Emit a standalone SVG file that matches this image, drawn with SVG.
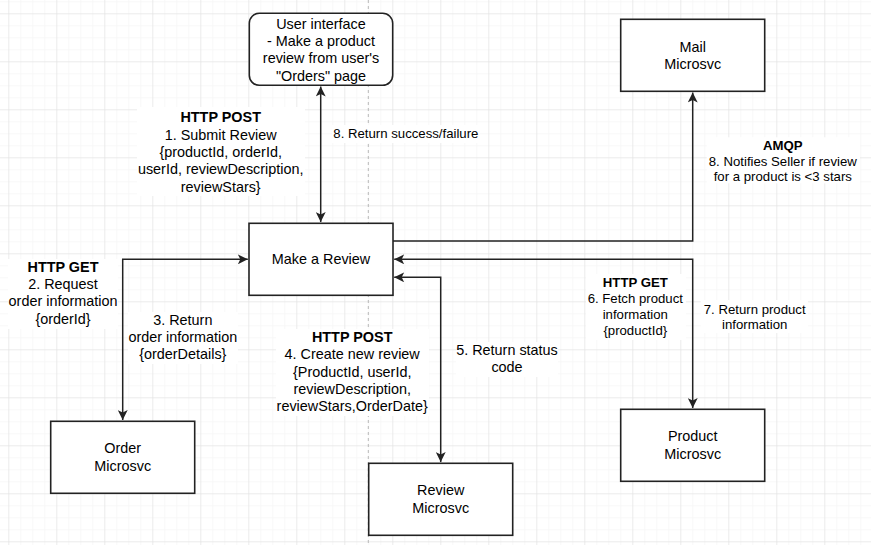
<svg xmlns="http://www.w3.org/2000/svg" width="871" height="545" viewBox="0 0 871 545">
<style>
text{font-family:"Liberation Sans",Arial,sans-serif;fill:#000;text-anchor:middle}
.s{font-size:14.4px}
.m{font-size:13.2px}
.b{font-weight:bold}
.node{fill:#fff;stroke:#222;stroke-width:1.6}
.edge{fill:none;stroke:#222;stroke-width:1.5}
.lbg{fill:#fff}
</style>
<defs>
<pattern id="minor" x="8.3" y="13.3" width="12" height="12" patternUnits="userSpaceOnUse">
<path d="M0 0H12M0 0V12" fill="none" stroke="#f2f2f2" stroke-width="1"/>
</pattern>
<pattern id="major" x="8.3" y="13.3" width="48" height="48" patternUnits="userSpaceOnUse">
<path d="M0 0H48M0 0V48" fill="none" stroke="#e0e0e0" stroke-width="1"/>
</pattern>
<marker id="arr" viewBox="0 0 10 10" markerWidth="10" markerHeight="10" refX="10" refY="5" orient="auto-start-reverse" markerUnits="userSpaceOnUse">
<path d="M0,0 L10,5 L0,10 L2.5,5 Z" fill="#222"/>
</marker>
</defs>
<rect width="871" height="545" fill="#fff"/>
<rect width="871" height="545" fill="url(#minor)"/>
<rect width="871" height="545" fill="url(#major)"/>
<line x1="368.3" y1="0" x2="368.3" y2="545" stroke="#b8b8b8" stroke-width="1" stroke-dasharray="3 3"/>

<g id="connectors">
<path class="edge" d="M320.7 86.5 V222" marker-start="url(#arr)" marker-end="url(#arr)"/>
<path class="edge" d="M393 241 H692.7 V92.5" marker-end="url(#arr)"/>
<path class="edge" d="M122.7 420 V259.3 H247.8" marker-start="url(#arr)" marker-end="url(#arr)"/>
<path class="edge" d="M394.2 277.3 H440.7 V462" marker-start="url(#arr)" marker-end="url(#arr)"/>
<path class="edge" d="M394.2 259.3 H692.7 V408" marker-start="url(#arr)" marker-end="url(#arr)"/>
</g>

<g id="labels">
<g id="label-submit">
<rect class="lbg" x="137" y="107" width="168" height="89"/>
<text class="s b" x="220.7" y="122.3">HTTP POST</text>
<text class="s" x="220.7" y="139.6">1. Submit Review</text>
<text class="s" x="220.7" y="156.9">{productId, orderId,</text>
<text class="s" x="220.7" y="174.2">userId, reviewDescription,</text>
<text class="s" x="220.7" y="191.5">reviewStars}</text>
</g>
<g id="label-return-success">
<rect class="lbg" x="332" y="125" width="148" height="18"/>
<text class="m" x="333.3" y="138" style="text-anchor:start">8. Return success/failure</text>
</g>
<g id="label-amqp">
<rect class="lbg" x="706.7" y="137.3" width="153.3" height="46"/>
<text class="m b" x="782.8" y="149.7">AMQP</text>
<text class="m" x="782.8" y="165.5">8. Notifies Seller if review</text>
<text class="m" x="782.8" y="181.3">for a product is &lt;3 stars</text>
</g>
<g id="label-get-order">
<rect class="lbg" x="8" y="259" width="110" height="70"/>
<text class="s b" x="63" y="271.7">HTTP GET</text>
<text class="s" x="63" y="289">2. Request</text>
<text class="s" x="63" y="306.3">order information</text>
<text class="s" x="63" y="323.6">{orderId}</text>
</g>
<g id="label-return-order">
<rect class="lbg" x="128" y="312" width="110" height="52"/>
<text class="s" x="182.8" y="324.8">3. Return</text>
<text class="s" x="182.8" y="342.1">order information</text>
<text class="s" x="182.8" y="359.4">{orderDetails}</text>
</g>
<g id="label-create-review">
<rect class="lbg" x="276" y="329" width="153" height="87"/>
<text class="s b" x="352.2" y="342">HTTP POST</text>
<text class="s" x="352.2" y="359.3">4. Create new review</text>
<text class="s" x="352.2" y="376.6">{ProductId, userId,</text>
<text class="s" x="352.2" y="393.9">reviewDescription,</text>
<text class="s" x="352.2" y="411.2">reviewStars,OrderDate}</text>
</g>
<g id="label-status">
<rect class="lbg" x="456" y="342" width="102" height="35"/>
<text class="s" x="507" y="355">5. Return status</text>
<text class="s" x="507" y="372.3">code</text>
</g>
<g id="label-fetch-product">
<rect class="lbg" x="586" y="274" width="100" height="66"/>
<text class="m b" x="635.3" y="287.3">HTTP GET</text>
<text class="m" x="635.3" y="303.1">6. Fetch product</text>
<text class="m" x="635.3" y="318.9">information</text>
<text class="m" x="635.3" y="334.7">{productId}</text>
</g>
<g id="label-return-product">
<rect class="lbg" x="700.7" y="300" width="107.3" height="33"/>
<text class="m" x="754.7" y="313.5">7. Return product</text>
<text class="m" x="754.7" y="329.3">information</text>
</g>
</g>

<g id="node-ui">
<rect class="node" x="249.3" y="13.3" width="143.4" height="72" rx="10" ry="10"/>
<text class="s" x="321" y="28.6">User interface</text>
<text class="s" x="321" y="45.9">- Make a product</text>
<text class="s" x="321" y="63.2">review from user's</text>
<text class="s" x="321" y="80.5">"Orders" page</text>
</g>
<g id="node-make-review">
<rect class="node" x="249" y="223.3" width="144" height="72"/>
<text class="s" x="321" y="264.3">Make a Review</text>
</g>
<g id="node-mail">
<rect class="node" x="620.7" y="19.3" width="144" height="72"/>
<text class="s" x="692.7" y="51.7">Mail</text>
<text class="s" x="692.7" y="69">Microsvc</text>
</g>
<g id="node-order">
<rect class="node" x="50.7" y="421.3" width="144" height="72"/>
<text class="s" x="122.7" y="453.3">Order</text>
<text class="s" x="122.7" y="470.6">Microsvc</text>
</g>
<g id="node-review">
<rect class="node" x="368.7" y="463.3" width="144" height="72"/>
<text class="s" x="440.7" y="495.3">Review</text>
<text class="s" x="440.7" y="512.6">Microsvc</text>
</g>
<g id="node-product">
<rect class="node" x="620.7" y="409.3" width="144" height="72"/>
<text class="s" x="692.7" y="441.3">Product</text>
<text class="s" x="692.7" y="458.6">Microsvc</text>
</g>
</svg>
